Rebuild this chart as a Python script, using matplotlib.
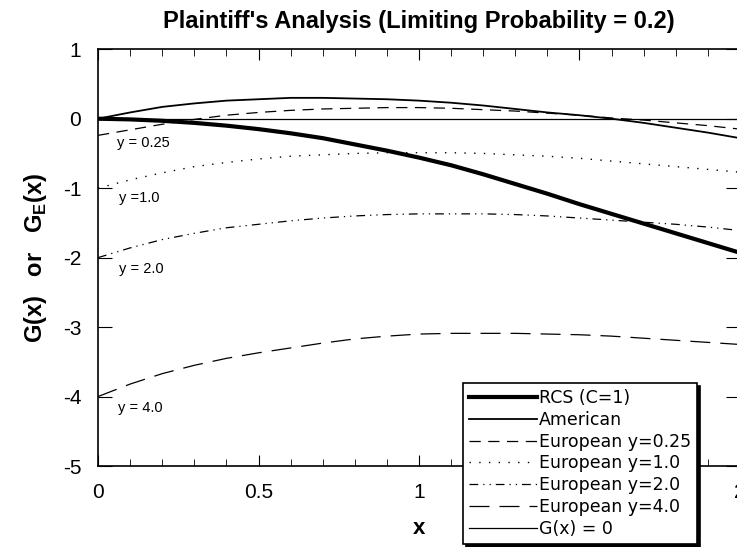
import numpy as np
import matplotlib
matplotlib.use("Agg")
import matplotlib.pyplot as plt
from matplotlib.ticker import MultipleLocator

plt.rcParams['font.family'] = ['Liberation Sans', 'DejaVu Sans']
plt.rcParams['axes.unicode_minus'] = False
plt.rcParams['mathtext.fontset'] = 'custom'
plt.rcParams['mathtext.bf'] = 'Liberation Sans:bold'
plt.rcParams['mathtext.rm'] = 'Liberation Sans'

# values
x = [0.0, 0.1, 0.2, 0.3, 0.4, 0.5, 0.6, 0.7, 0.8, 0.9, 1.0,
     1.1, 1.2, 1.3, 1.4, 1.5, 1.6, 1.7, 1.8, 1.9, 2.0]
rcs = [0.0, -0.01, -0.03, -0.06, -0.10, -0.15, -0.21, -0.28, -0.37, -0.46, -0.56,
       -0.67, -0.80, -0.94, -1.08, -1.23, -1.37, -1.51, -1.65, -1.79, -1.93]
american = [0.0, 0.09, 0.17, 0.22, 0.26, 0.28, 0.30, 0.30, 0.29, 0.28, 0.26,
            0.23, 0.19, 0.14, 0.09, 0.05, 0.0, -0.06, -0.13, -0.20, -0.28]
euro_025 = [-0.24, -0.16, -0.08, -0.01, 0.05, 0.09, 0.12, 0.14, 0.15, 0.16, 0.16,
            0.15, 0.13, 0.11, 0.08, 0.05, 0.01, -0.02, -0.06, -0.10, -0.15]
euro_10 = [-1.0, -0.88, -0.78, -0.69, -0.63, -0.58, -0.54, -0.52, -0.50, -0.49, -0.49,
           -0.49, -0.50, -0.52, -0.54, -0.57, -0.61, -0.65, -0.69, -0.73, -0.77]
euro_20 = [-2.0, -1.86, -1.74, -1.65, -1.57, -1.52, -1.47, -1.43, -1.40, -1.38, -1.37,
           -1.37, -1.37, -1.38, -1.40, -1.43, -1.46, -1.49, -1.52, -1.56, -1.61]
euro_40 = [-4.0, -3.82, -3.67, -3.55, -3.45, -3.37, -3.30, -3.23, -3.17, -3.13, -3.10,
           -3.09, -3.09, -3.09, -3.10, -3.11, -3.13, -3.16, -3.19, -3.22, -3.25]

curve_labels = ['y = 0.25', 'y =1.0', 'y = 2.0', 'y = 4.0']
curve_label_pos = [(0.06, -0.35), (0.065, -1.14), (0.065, -2.16), (0.062, -4.16)]

fig = plt.figure(figsize=(7.37, 5.47), dpi=100)
ax = fig.add_axes([0.133, 0.148, 0.871, 0.762])

ax.plot(x, rcs, color='black', lw=3.0, label='RCS (C=1)')
ax.plot(x, american, color='black', lw=1.3, label='American')
ax.plot(x, euro_025, color='black', lw=0.9, ls=(0, (9, 6)), label='European y=0.25')
ax.plot(x, euro_10, color='black', lw=1.0, ls=(0, (1, 6)), label='European y=1.0')
ax.plot(x, euro_20, color='black', lw=0.9, ls=(0, (7, 4, 1, 4, 1, 4)), label='European y=2.0')
ax.plot(x, euro_40, color='black', lw=0.9, ls=(0, (16, 8)), label='European y=4.0')
ax.axhline(0, color='black', lw=0.9, label='G(x) = 0')

for txt, (tx, ty) in zip(curve_labels, curve_label_pos):
    ax.text(tx, ty, txt, fontsize=10.5, va='center', ha='left')

ax.set_xlim(0, 2)
ax.set_ylim(-5, 1)
ax.xaxis.set_major_locator(MultipleLocator(0.5))
ax.xaxis.set_minor_locator(MultipleLocator(0.1))
ax.yaxis.set_major_locator(MultipleLocator(1))
ax.set_xticks([0, 0.5, 1, 1.5, 2])
ax.set_xticklabels(['0', '0.5', '1', '1.5', '2'])
ax.tick_params(axis='both', which='major', direction='in', top=True, right=True,
               labelsize=15)
ax.tick_params(axis='x', which='major', length=8, pad=12)
ax.tick_params(axis='y', which='major', length=10, pad=12)
ax.tick_params(axis='x', which='minor', direction='in', top=True, length=5)
for s in ax.spines.values():
    s.set_linewidth(1.2)

ax.set_title("Plaintiff's Analysis (Limiting Probability = 0.2)",
             fontsize=17, fontweight='bold', pad=15)
ax.set_xlabel('x', fontsize=16, fontweight='bold', labelpad=12)
ax.set_ylabel(r'G(x)   or   G$_{\mathbf{E}}$(x)', fontsize=17, fontweight='bold',
              labelpad=10)

leg = fig.legend(loc='upper left', bbox_to_anchor=(0.628, 0.300),
                 prop={'family': 'DejaVu Sans', 'size': 12.5},
                 frameon=True, fancybox=False,
                 shadow={'color': 'black', 'alpha': 1}, handlelength=3.9,
                 handletextpad=0.15, labelspacing=0.22, borderpad=0.35,
                 borderaxespad=0)
leg.get_frame().set_edgecolor('black')
leg.get_frame().set_linewidth(1.2)
leg.get_frame().set_alpha(1)

fig.savefig('out.png', dpi=100)
